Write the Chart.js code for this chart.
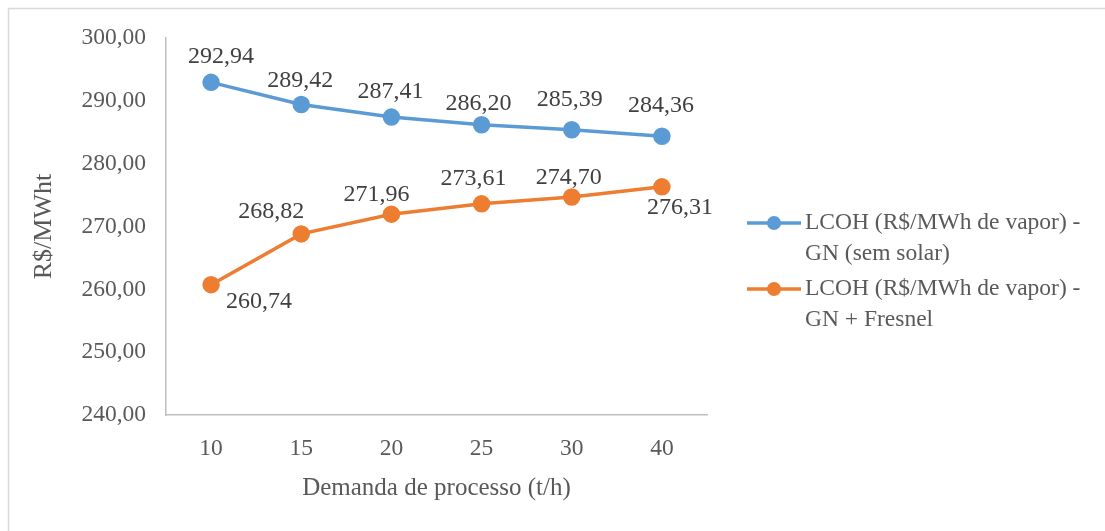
<!DOCTYPE html>
<html>
<head>
<meta charset="utf-8">
<script src="https://cdn.jsdelivr.net/npm/chart.js@4.4.1/dist/chart.umd.min.js"></script>
<style>
  html, body { margin: 0; padding: 0; background: #fff; }
  #wrap { width: 1105px; height: 531px; position: relative; }
</style>
</head>
<body>
<div id="wrap"><canvas id="grafico"></canvas></div>
<script>
// Dados do gráfico
var demandas = ['10', '15', '20', '25', '30', '40'];
var lcohSemSolar = [292.94, 289.42, 287.41, 286.20, 285.39, 284.36];
var lcohFresnel = [260.74, 268.82, 271.96, 273.61, 274.70, 276.31];
var nomesSeries = [
    ['LCOH (R$/MWh de vapor) -', 'GN (sem solar)'],
    ['LCOH (R$/MWh de vapor) -', 'GN + Fresnel']
];
var eixoY = { min: 240, max: 300, passo: 10 };

var FONTE = '"Liberation Serif", "Times New Roman", serif';
var AZUL = '#5B9BD5';
var LARANJA = '#ED7D31';

// deslocamento dos rótulos (px) em relação ao ponto
var deslocRotulos = [
    [[10, -26], [-1, -24], [-1, -25], [-3, -21], [-2, -30], [-1, -31]],
    [[48, 17], [-30, -22], [-15, -19], [-8, -25], [-3, -19], [18, 21]]
];

function formatar(v) {
    return v.toFixed(2).replace('.', ',');
}

// Rótulos de dados, legenda e moldura
var pluginExtras = {
    id: 'extras',
    afterDatasetsDraw: function (chart) {
        var ctx = chart.ctx;
        ctx.save();
        ctx.font = '24px ' + FONTE;
        ctx.fillStyle = '#404040';
        ctx.textAlign = 'center';
        ctx.textBaseline = 'middle';
        chart.data.datasets.forEach(function (ds, i) {
            var meta = chart.getDatasetMeta(i);
            meta.data.forEach(function (pt, j) {
                var d = deslocRotulos[i][j];
                ctx.fillText(formatar(ds.data[j]), pt.x + d[0], pt.y + d[1]);
            });
        });

        // legenda
        var topos = [223, 289];
        ctx.font = '23.5px ' + FONTE;
        ctx.textAlign = 'left';
        chart.data.datasets.forEach(function (ds, i) {
            var y = topos[i];
            ctx.strokeStyle = ds.borderColor;
            ctx.lineWidth = 3.5;
            ctx.beginPath();
            ctx.moveTo(747, y);
            ctx.lineTo(801, y);
            ctx.stroke();
            ctx.fillStyle = ds.backgroundColor;
            ctx.beginPath();
            ctx.arc(774, y, 7, 0, Math.PI * 2);
            ctx.fill();
            ctx.fillStyle = '#595959';
            nomesSeries[i].forEach(function (linha, k) {
                ctx.fillText(linha, 805, y + k * 31);
            });
        });

        // moldura (só topo e esquerda aparecem)
        ctx.strokeStyle = '#d9d9d9';
        ctx.lineWidth = 1.5;
        ctx.beginPath();
        ctx.moveTo(8.5, 531);
        ctx.lineTo(8.5, 8.5);
        ctx.lineTo(1105, 8.5);
        ctx.stroke();
        ctx.restore();
    }
};

var ctx = document.getElementById('grafico').getContext('2d');
new Chart(ctx, {
    type: 'line',
    data: {
        labels: demandas,
        datasets: [{
            label: nomesSeries[0].join(' '),
            data: lcohSemSolar,
            borderColor: AZUL,
            backgroundColor: AZUL,
            borderWidth: 3.5,
            pointRadius: 7,
            pointHoverRadius: 7,
            tension: 0
        }, {
            label: nomesSeries[1].join(' '),
            data: lcohFresnel,
            borderColor: LARANJA,
            backgroundColor: LARANJA,
            borderWidth: 3.5,
            pointRadius: 7,
            pointHoverRadius: 7,
            tension: 0
        }]
    },
    options: {
        responsive: true,
        maintainAspectRatio: false,
        animation: false,
        layout: {
            padding: { left: 0, right: 398, top: 38, bottom: 0 }
        },
        plugins: {
            legend: { display: false },
            tooltip: { enabled: false }
        },
        scales: {
            x: {
                offset: true,
                grid: { display: false, drawTicks: false },
                border: { color: '#bfbfbf', width: 1.5 },
                ticks: {
                    color: '#595959',
                    font: { family: FONTE, size: 23.5 },
                    padding: 20
                },
                title: {
                    display: true,
                    text: 'Demanda de processo (t/h)',
                    color: '#595959',
                    font: { family: FONTE, size: 25 },
                    padding: { top: 0, bottom: 28 }
                },
                afterFit: function (s) { s.height = 116; }
            },
            y: {
                min: eixoY.min,
                max: eixoY.max,
                grid: { display: false, drawTicks: false },
                border: { color: '#bfbfbf', width: 1.5 },
                ticks: {
                    stepSize: eixoY.passo,
                    color: '#595959',
                    font: { family: FONTE, size: 23.5 },
                    padding: 20,
                    callback: function (v) { return formatar(v); }
                },
                title: {
                    display: true,
                    text: 'R$/MWht',
                    color: '#595959',
                    font: { family: FONTE, size: 26 },
                    padding: { top: 29, bottom: 0 }
                },
                afterFit: function (s) { s.width = 166; }
            }
        }
    },
    plugins: [pluginExtras]
});
</script>
</body>
</html>
